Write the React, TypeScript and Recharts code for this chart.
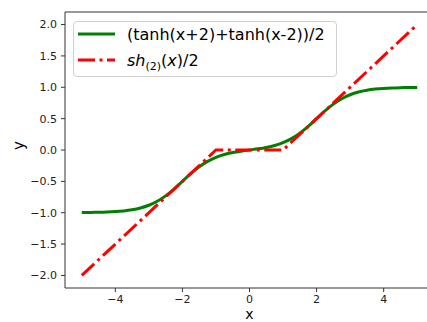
import React from "react";
import { LineChart, Line, XAxis, YAxis, ReferenceLine, Legend } from "recharts";

// ---- data ----
const xValues = [
  -5, -4.75, -4.5, -4.25, -4, -3.75, -3.5, -3.25, -3, -2.75, -2.5, -2.25, -2, -1.75, -1.5, -1.25, -1, -0.75, -0.5, -0.25,
  0, 0.25, 0.5, 0.75, 1, 1.25, 1.5, 1.75, 2, 2.25, 2.5, 2.75, 3, 3.25, 3.5, 3.75, 4, 4.25, 4.5, 4.75, 5,
];
const greenValues = [
  -0.9975, -0.9959, -0.9933, -0.989, -0.982, -0.9707, -0.9525, -0.9241, -0.8808, -0.8175, -0.731, -0.6222, -0.4997,
  -0.377, -0.2681, -0.181, -0.1168, -0.0718, -0.0408, -0.0183,
  0, 0.0183, 0.0408, 0.0718, 0.1168, 0.181, 0.2681, 0.377, 0.4997, 0.6222, 0.731, 0.8175, 0.8808, 0.9241, 0.9525,
  0.9707, 0.982, 0.989, 0.9933, 0.9959, 0.9975,
];
const redX = [-5, -1, 1, 5];
const redValues = [-2, 0, 0, 2];

const xTicks = [-4, -2, 0, 2, 4];
const yTicks = [-2, -1.5, -1, -0.5, 0, 0.5, 1, 1.5, 2];
const X_DOMAIN: [number, number] = [-5.5, 5.5];
const Y_DOMAIN: [number, number] = [-2.2, 2.2];
const seriesNames = ["(tanh(x+2)+tanh(x-2))/2", "sh(2)(x)/2"];

const greenData = xValues.map((x, i) => ({ x, y: greenValues[i] }));
const redData = redX.map((x, i) => ({ x, y: redValues[i] }));

const FONT = "DejaVu Sans, sans-serif";
const GREEN = "#008000";
const RED = "#ff0000";
const DASH = "17 4.5 3 4.5";

const fmtY = (v: number) => (v < 0 ? "\u2212" + Math.abs(v).toFixed(1) : v.toFixed(1));
const fmtX = (v: number) => (v < 0 ? "\u2212" + Math.abs(v) : String(v));

const LegendBox = () => (
  <div
    style={{
      width: 264,
      height: 56,
      border: "1px solid #d0d0d0",
      borderRadius: 4,
      background: "rgba(255,255,255,0.8)",
      boxSizing: "border-box",
    }}
  >
    <svg width={262} height={54} style={{ display: "block" }}>
      <line x1={4} x2={41} y1={12} y2={12} stroke={GREEN} strokeWidth={3} />
      <line x1={4} x2={41} y1={38} y2={38} stroke={RED} strokeWidth={3} strokeDasharray={DASH} />
      <text x={53} y={18} fontFamily={FONT} fontSize={16} fill="#000">
        {seriesNames[0]}
      </text>
      <text x={53} y={44} fontFamily={FONT} fontSize={16} fill="#000">
        <tspan fontStyle="italic">sh</tspan>
        <tspan fontSize={11} dy={4}>(2)</tspan>
        <tspan dy={-4}>(</tspan>
        <tspan fontStyle="italic">x</tspan>
        <tspan>)/2</tspan>
      </text>
    </svg>
  </div>
);

export default function App() {
  return (
    <div
      style={{
        position: "absolute",
        left: 0,
        top: 0,
        width: 427,
        height: 322,
        overflow: "hidden",
        background: "#fff",
      }}
    >
      <LineChart
        width={440}
        height={322}
        margin={{ top: 12, right: 6, bottom: 0, left: 15 }}
      >
        <XAxis
          dataKey="x"
          type="number"
          domain={X_DOMAIN}
          ticks={xTicks}
          allowDataOverflow
          tickFormatter={fmtX}
          height={34}
          tickSize={4}
          tickMargin={3}
          stroke="#333"
          tick={{ fill: "#222", fontSize: 11, fontFamily: FONT }}
          label={{ value: "x", position: "insideBottom", offset: 3, fill: "#000", fontSize: 14, fontFamily: FONT }}
        />
        <YAxis
          type="number"
          domain={Y_DOMAIN}
          ticks={yTicks}
          allowDataOverflow
          tickFormatter={fmtY}
          width={50}
          tickSize={4}
          tickMargin={4}
          stroke="#333"
          tick={{ fill: "#222", fontSize: 11, fontFamily: FONT }}
          label={{ value: "y", angle: -90, position: "insideLeft", offset: 4, fill: "#000", fontSize: 15, fontFamily: FONT }}
        />
        <ReferenceLine y={Y_DOMAIN[1]} stroke="#333" strokeWidth={1} />
        <Legend
          layout="vertical"
          align="center"
          verticalAlign="middle"
          content={() => <LegendBox />}
          wrapperStyle={{ position: "absolute", left: 73, top: 21, width: 264, height: 56 }}
        />
        <Line
          data={greenData}
          dataKey="y"
          type="monotone"
          stroke={GREEN}
          strokeWidth={3}
          dot={false}
          activeDot={false}
          isAnimationActive={false}
          name={seriesNames[0]}
        />
        <Line
          data={redData}
          dataKey="y"
          type="linear"
          stroke={RED}
          strokeWidth={3}
          strokeDasharray={DASH}
          dot={false}
          activeDot={false}
          isAnimationActive={false}
          name={seriesNames[1]}
        />
      </LineChart>
    </div>
  );
}
